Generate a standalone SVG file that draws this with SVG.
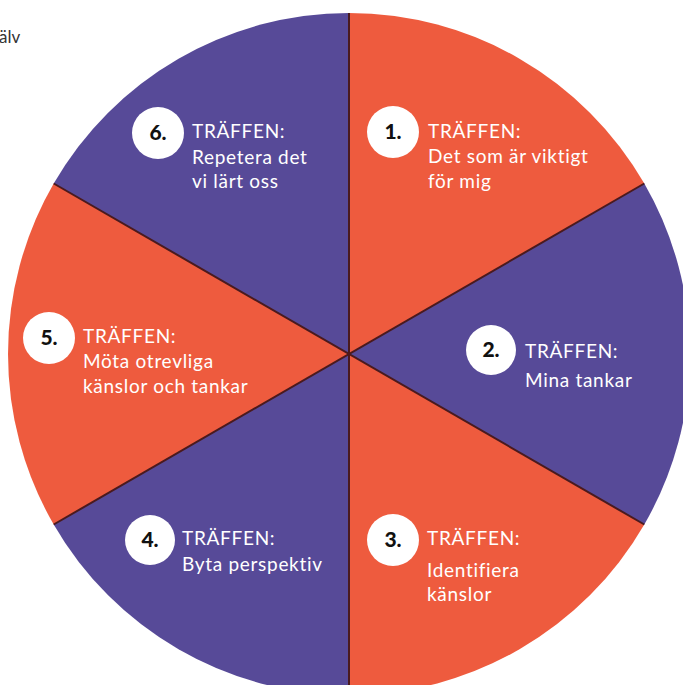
<svg xmlns="http://www.w3.org/2000/svg" width="683" height="685" viewBox="0 0 683 685">
<style>
.or{fill:#EE5B3E}
.pu{fill:#574A98}
.div{stroke:#4A1A1E;stroke-width:2;fill:none}
.badge{fill:#FFFFFF}
.num{font-family:Lato,"Open Sans",sans-serif;font-weight:900;font-size:21px;fill:#111111;text-anchor:middle}
.lbl{font-family:Lato,"Open Sans",sans-serif;font-size:19px;fill:#FFFFFF;letter-spacing:0.7px}
.cut{font-family:Lato,"Open Sans",sans-serif;font-size:17px;fill:#333333}
</style>
<rect width="683" height="685" fill="#FFFFFF"/>
<text class="cut" x="-1" y="43">älv</text>
<g id="wheel">
<path class="or" d="M349 354 L349 13 A341 341 0 0 1 644.3 183.5 Z"/>
<path class="pu" d="M349 354 L644.3 183.5 A341 341 0 0 1 644.3 524.5 Z"/>
<path class="or" d="M349 354 L644.3 524.5 A341 341 0 0 1 349 695 Z"/>
<path class="pu" d="M349 354 L349 695 A341 341 0 0 1 53.7 524.5 Z"/>
<path class="or" d="M349 354 L53.7 524.5 A341 341 0 0 1 53.7 183.5 Z"/>
<path class="pu" d="M349 354 L53.7 183.5 A341 341 0 0 1 349 13 Z"/>
</g>
<g id="connectors">
<line class="div" x1="349" y1="13" x2="349" y2="695"/>
<line class="div" x1="644.3" y1="183.5" x2="53.7" y2="524.5"/>
<line class="div" x1="53.7" y1="183.5" x2="644.3" y2="524.5"/>
</g>
<g id="node1">
<circle class="badge" cx="393" cy="132" r="26"/>
<text class="num" x="393" y="139">1.</text>
<text class="lbl" x="428" y="138">TRÄFFEN:</text>
<text class="lbl" x="428" y="163">Det som är viktigt</text>
<text class="lbl" x="428" y="188">för mig</text>
</g>
<g id="node2">
<circle class="badge" cx="491" cy="350" r="25"/>
<text class="num" x="491" y="357">2.</text>
<text class="lbl" x="525" y="358">TRÄFFEN:</text>
<text class="lbl" x="525" y="387">Mina tankar</text>
</g>
<g id="node3">
<circle class="badge" cx="393" cy="540" r="26"/>
<text class="num" x="393" y="547">3.</text>
<text class="lbl" x="427" y="545">TRÄFFEN:</text>
<text class="lbl" x="427" y="577">Identifiera</text>
<text class="lbl" x="427" y="601">känslor</text>
</g>
<g id="node4">
<circle class="badge" cx="150" cy="540" r="25"/>
<text class="num" x="150" y="547">4.</text>
<text class="lbl" x="182" y="545">TRÄFFEN:</text>
<text class="lbl" x="182" y="571">Byta perspektiv</text>
</g>
<g id="node5">
<circle class="badge" cx="49" cy="338" r="26"/>
<text class="num" x="49" y="345">5.</text>
<text class="lbl" x="83" y="343">TRÄFFEN:</text>
<text class="lbl" x="83" y="368">Möta otrevliga</text>
<text class="lbl" x="83" y="393">känslor och tankar</text>
</g>
<g id="node6">
<circle class="badge" cx="158" cy="133" r="26"/>
<text class="num" x="158" y="140">6.</text>
<text class="lbl" x="192" y="138">TRÄFFEN:</text>
<text class="lbl" x="192" y="164">Repetera det</text>
<text class="lbl" x="192" y="188">vi lärt oss</text>
</g>
</svg>
